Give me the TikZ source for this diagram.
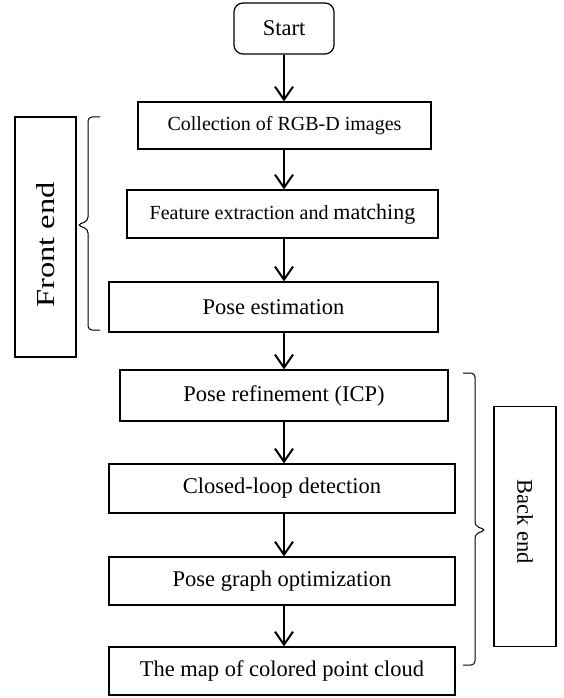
\documentclass[tikz,border=0pt]{standalone}
\usepackage{fontspec}
\setmainfont{Liberation Serif}
\usetikzlibrary{
    arrows.meta,
    positioning
}
\tikzset{
    % Boxes
    stage/.style={draw,line width=1.2pt,inner sep=0pt,minimum width=#1,minimum height=48pt,font=\fontsize{22.5}{26}\selectfont},
    stage/.default=330pt,
    start box/.style={stage=100pt,rounded corners=9pt,minimum height=51pt},
    side box/.style={draw,line width=1.2pt,inner sep=0pt,minimum width=240pt,minimum height=61pt},
    %
    % Arrows
    arrow tip/.tip={Straight Barb[length=13pt,width=18pt]},
    arr/.style={->,>={arrow tip},line width=2pt},
    %
    % Braces
    part brace/.style={line width=1pt,rounded corners=4pt}
}

\begin{document}
\begin{tikzpicture}[x=1pt,y=-1pt]
        \useasboundingbox (0,0) rectangle (563,698);
        \node[start box] (start) at (284,28.5) {Start};
        \node[stage=293pt,minimum height=47pt,font=\fontsize{20}{24}\selectfont] (collect) at (284.5,125.5) {Collection of RGB-D images};
        \node[stage=311pt,font=\fontsize{20}{24}\selectfont] (feature) at (282.5,214) {Feature extraction and {\fontsize{22}{26}\selectfont matching}};
        \node[stage=329pt,minimum height=50pt] (estim) at (273.5,307) {Pose estimation};
        \node[stage=328pt,minimum height=51pt] (refine) at (284,395.5) {Pose refinement (ICP)};
        \node[stage=346pt,minimum height=49pt] (loop) at (282,488.5) {Closed-loop detection};
        \node[stage=346pt] (graph) at (282,581) {Pose graph optimization};
        \node[stage=346pt] (cloud) at (282,671) {The map of colored point cloud};
        \draw[arr] (start.south) -- (collect.north -| start);
        \draw[arr] (collect.south -| start) -- (feature.north -| start);
        \draw[arr] (feature.south -| start) -- (estim.north -| start);
        \draw[arr] (estim.south -| start) -- (refine.north -| start);
        \draw[arr] (refine.south -| start) -- (loop.north -| start);
        \draw[arr] (loop.south -| start) -- (graph.north -| start);
        \draw[arr] (graph.south -| start) -- (cloud.north -| start);
        % front end / back end
        \draw[part brace] (100,117) -- (88,117) -- (88,221) -- (77,225) -- (88,229) -- (88,330) -- (100,330);
        \node[side box,rotate=90] (front) at (45.5,237) {\fontsize{26}{30}\selectfont\scalebox{1.25}[1]{Front end}\hspace*{16pt}};
        \draw[part brace] (463,373) -- (475,373) -- (475,526) -- (486,530) -- (475,534) -- (475,665) -- (463,665);
        \node[side box,rotate=-90,minimum height=62pt] (back) at (525,526.5) {\fontsize{22.5}{26}\selectfont Back end\hspace*{10pt}};
    \end{tikzpicture}
\end{document}
